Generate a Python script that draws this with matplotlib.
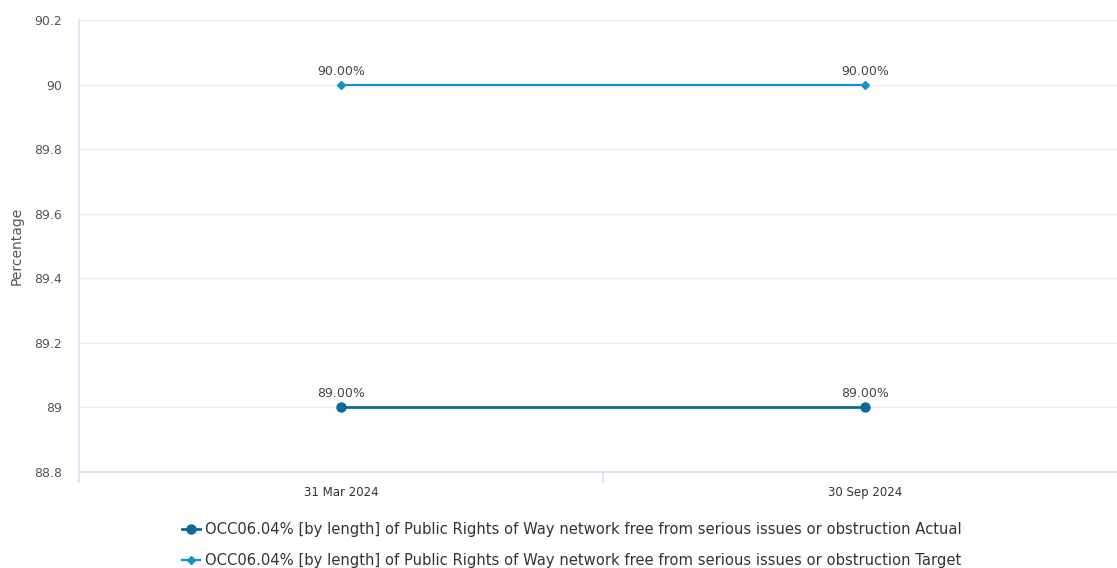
import matplotlib
matplotlib.use("Agg")
import matplotlib.pyplot as plt
from matplotlib.ticker import FixedLocator

dates = ["31 Mar 2024", "30 Sep 2024"]
actual = [89.0, 89.0]
target = [90.0, 90.0]
series_name = "OCC06.04% [by length] of Public Rights of Way network free from serious issues or obstruction"
y_ticks = [88.8, 89, 89.2, 89.4, 89.6, 89.8, 90, 90.2]

ACT = "#0f6994"
TGT = "#1a8fd0"
GRID = "#ececec"
AXIS = "#d9e0f0"
TXT = "#555555"

fig = plt.figure(figsize=(11.17, 5.68), dpi=100)
# category axis extends past the right edge of the canvas
ax = fig.add_axes([79 / 1117, 96 / 568, 1048 / 1117, 452 / 568])

x = list(range(len(dates)))
ax.plot(x, actual, color=ACT, lw=2, marker="o", ms=6.5, label=series_name + " Actual", zorder=3)
ax.plot(x, target, color=TGT, lw=1.6, marker="D", ms=4, label=series_name + " Target", zorder=3)

for xi, v in zip(x, actual):
    ax.annotate(f"{v:.2f}%", (xi, v), xytext=(0, 5), textcoords="offset points",
                ha="center", va="bottom", fontsize=9, color="#444444")
for xi, v in zip(x, target):
    ax.annotate(f"{v:.2f}%", (xi, v), xytext=(0, 5), textcoords="offset points",
                ha="center", va="bottom", fontsize=9, color="#444444")

ax.set_xlim(-0.5, len(dates) - 0.5)
ax.set_ylim(88.8, 90.2)
ax.yaxis.set_major_locator(FixedLocator(y_ticks))
ax.set_yticklabels([f"{t:g}" for t in y_ticks])
ax.set_xticks(x)
ax.set_xticklabels(dates)
ax.set_xticks([-0.5, 0.5, 1.5], minor=True)

ax.grid(axis="y", color=GRID, lw=1)
ax.set_axisbelow(True)
for s in ("top", "right"):
    ax.spines[s].set_visible(False)
ax.spines["left"].set_color(AXIS)
ax.spines["bottom"].set_color(AXIS)
ax.spines["left"].set_linewidth(1.2)
ax.spines["bottom"].set_linewidth(1.2)

ax.tick_params(axis="y", length=0, pad=12, labelsize=9, labelcolor=TXT)
ax.tick_params(axis="x", which="major", length=0, pad=10, labelsize=8.5, labelcolor="#333333")
ax.tick_params(axis="x", which="minor", length=8, width=1.2, color=AXIS)

ax.set_ylabel("Percentage", fontsize=10, color=TXT)
ax.yaxis.set_label_coords(-0.053, 0.5)

fig.legend(loc="upper center", bbox_to_anchor=(572 / 1117, 1 - 509 / 568), ncol=1,
           frameon=False, fontsize=10.6, labelcolor="#333333", handlelength=1.2,
           handletextpad=0.35, labelspacing=1.05)

fig.savefig("out.png", dpi=100)
